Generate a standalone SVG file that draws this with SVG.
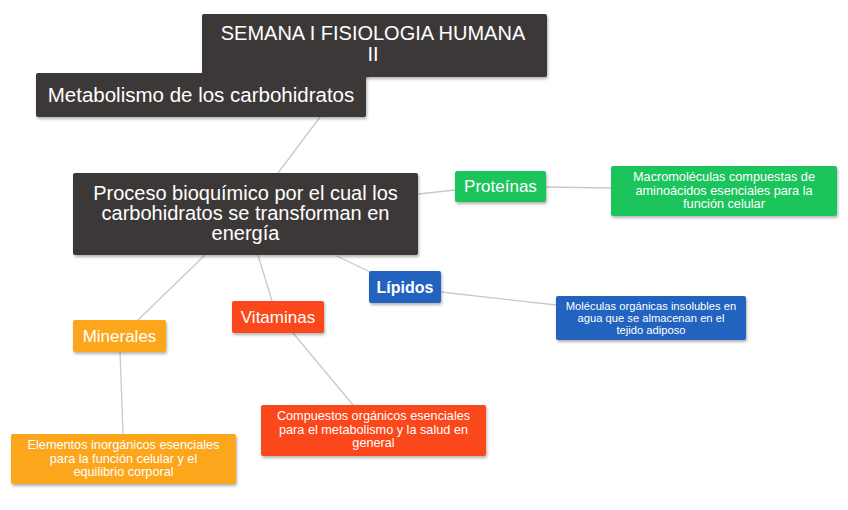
<svg xmlns="http://www.w3.org/2000/svg" width="848" height="510" viewBox="0 0 848 510">
<defs>
<filter id="sh" x="-10%" y="-20%" width="120%" height="150%">
<feDropShadow dx="1" dy="2" stdDeviation="1.5" flood-color="#000" flood-opacity="0.3"/>
</filter>
<style>
text{font-family:"Liberation Sans",Arial,sans-serif;fill:#fff;text-anchor:middle}
.box{filter:url(#sh)}
.dark{fill:#3c3838}
.green{fill:#1dc45c}
.blue{fill:#2464bf}
.red{fill:#fb471b}
.orange{fill:#fca61c}
.big{font-size:20px}
.lab{font-size:17px}
.sm{font-size:12.7px}
.xs{font-size:11.2px}
.conn line{stroke:#c9c9c9;stroke-width:1.3;fill:none}
</style>
</defs>
<rect width="848" height="510" fill="#fff"/>
<g class="conn" id="connectors">
<line x1="320" y1="117" x2="278" y2="173"/>
<line x1="418" y1="194" x2="455" y2="190"/>
<line x1="546" y1="187" x2="611" y2="188"/>
<line x1="337" y1="256" x2="370" y2="272"/>
<line x1="441" y1="292" x2="556" y2="305"/>
<line x1="258" y1="255" x2="272" y2="301"/>
<line x1="205" y1="255" x2="138" y2="320"/>
<line x1="120" y1="352" x2="123" y2="434"/>
<line x1="293" y1="333" x2="353" y2="405"/>
</g>
<g id="title">
<rect class="box dark" x="202" y="14" width="345" height="63" rx="2"/>
<text class="big" x="373" y="40">SEMANA I FISIOLOGIA HUMANA</text>
<text class="big" x="373" y="61">II</text>
</g>
<g id="metabolismo">
<rect class="box dark" x="36" y="73" width="330" height="44" rx="2"/>
<text x="201" y="102" style="font-size:20.5px">Metabolismo de los carbohidratos</text>
</g>
<g id="proceso">
<rect class="box dark" x="73" y="173" width="345" height="82" rx="2"/>
<text class="big" x="245.5" y="200">Proceso bioquímico por el cual los</text>
<text class="big" x="245.5" y="220">carbohidratos se transforman en</text>
<text class="big" x="245.5" y="240">energía</text>
</g>
<g id="proteinas">
<rect class="box green" x="455" y="171" width="91" height="31" rx="2"/>
<text class="lab" x="500.5" y="192">Proteínas</text>
</g>
<g id="proteinas-desc">
<rect class="box green" x="611" y="166" width="226" height="50" rx="2"/>
<text class="sm" x="724" y="181">Macromoléculas compuestas de</text>
<text class="sm" x="724" y="194.5">aminoácidos esenciales para la</text>
<text class="sm" x="724" y="208">función celular</text>
</g>
<g id="lipidos">
<rect class="box blue" x="369" y="271" width="72" height="32" rx="2"/>
<text x="405" y="293" style="font-size:16px;font-weight:bold">Lípidos</text>
</g>
<g id="lipidos-desc">
<rect class="box blue" x="556" y="296" width="190" height="44" rx="2"/>
<text class="xs" x="651" y="310">Moléculas orgánicas insolubles en</text>
<text class="xs" x="651" y="322">agua que se almacenan en el</text>
<text class="xs" x="651" y="334">tejido adiposo</text>
</g>
<g id="vitaminas">
<rect class="box red" x="232" y="301" width="92" height="32" rx="2"/>
<text class="lab" x="278" y="323">Vitaminas</text>
</g>
<g id="vitaminas-desc">
<rect class="box red" x="261" y="405" width="225" height="51" rx="2"/>
<text class="sm" x="373.5" y="420">Compuestos orgánicos esenciales</text>
<text class="sm" x="373.5" y="433.5">para el metabolismo y la salud en</text>
<text class="sm" x="373.5" y="447">general</text>
</g>
<g id="minerales">
<rect class="box orange" x="73" y="320" width="93" height="32" rx="2"/>
<text class="lab" x="119.5" y="342">Minerales</text>
</g>
<g id="minerales-desc">
<rect class="box orange" x="11" y="434" width="225" height="50" rx="2"/>
<text class="sm" x="123.5" y="449">Elementos inorgánicos esenciales</text>
<text class="sm" x="123.5" y="462.5">para la función celular y el</text>
<text class="sm" x="123.5" y="476">equilibrio corporal</text>
</g>
</svg>
